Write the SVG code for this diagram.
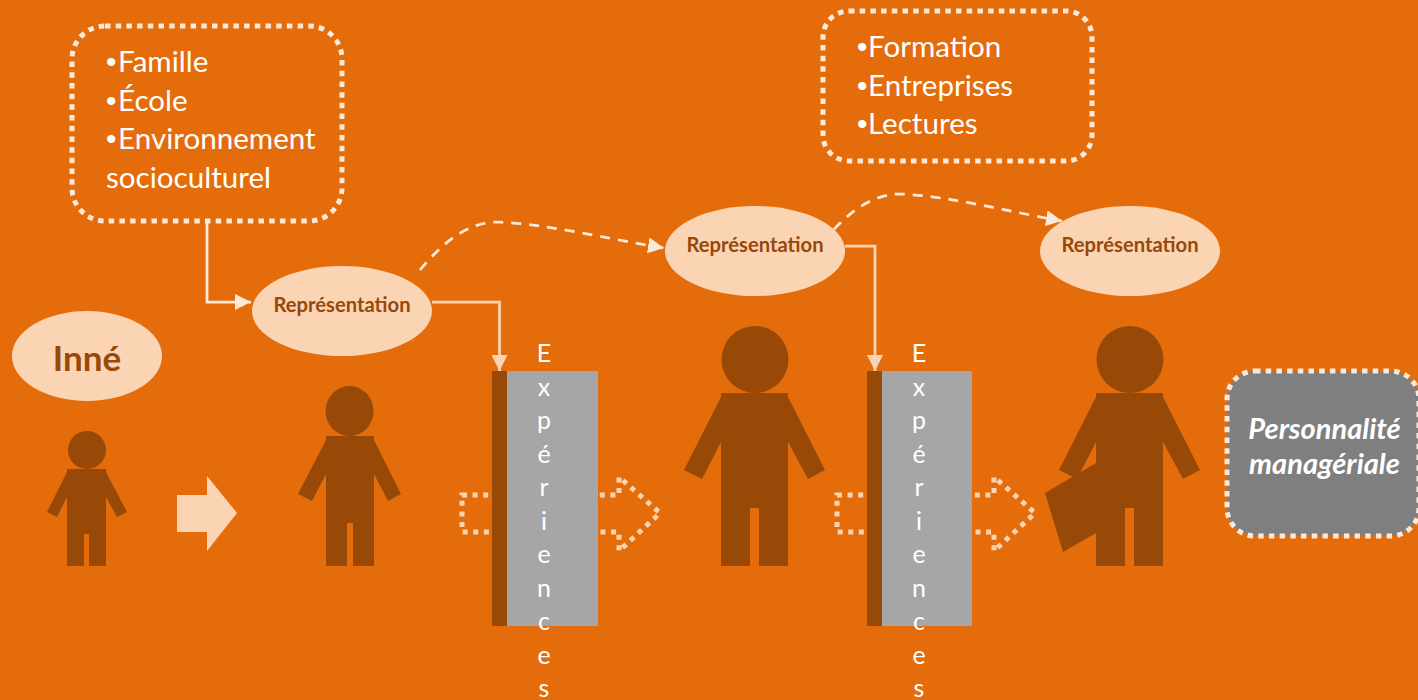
<svg xmlns="http://www.w3.org/2000/svg" width="1418" height="700" viewBox="0 0 1418 700">
<style>
.dk{fill:#984807}
.pe{fill:#FBD4B4}
.t{font-family:"Lato","Open Sans",sans-serif}
.list{font-size:29.6px;fill:#fff}
.bu{font-family:"Liberation Sans",sans-serif;font-size:30px}
.rep{font-size:20.2px;font-weight:700;fill:#984807;text-anchor:middle}
.ltr{font-size:25px;fill:#fff;text-anchor:middle}
.dot{fill:none;stroke:#FDE9D9;stroke-width:5;stroke-dasharray:5.500 5.200}
.blk{fill:none;stroke:#FBD4B4;stroke-width:5;stroke-dasharray:5 5.600}
.ln{fill:none;stroke:#FBD4B4;stroke-width:2.750}
.ln2{fill:none;stroke:#FDE9D9;stroke-width:2.750}
.ds{fill:none;stroke:#FDE9D9;stroke-width:2.750;stroke-dasharray:10 8}
</style>
<defs>
<marker id="a1" markerUnits="userSpaceOnUse" markerWidth="17" markerHeight="16" refX="16" refY="8" orient="auto"><path d="M0,0L16,8L0,16Z" fill="#FBD4B4"/></marker>
<marker id="a2" markerUnits="userSpaceOnUse" markerWidth="17" markerHeight="16" refX="16" refY="8" orient="auto"><path d="M0,0L16,8L0,16Z" fill="#FDE9D9"/></marker>
</defs>
<rect width="1418" height="700" fill="#E46C0A"/>

<g id="connectors">
<path class="ln2" d="M207,221V302H251" marker-end="url(#a2)"/>
<path class="ln" d="M432,302H499.500V371" marker-end="url(#a1)"/>
<path class="ln" d="M845,246H875V371" marker-end="url(#a1)"/>
<path class="ds" d="M420,270C443,242 468,222 498,222C548,224 608,239 664,248" marker-end="url(#a2)"/>
<path class="ds" d="M822,243C845,215 870,194 900,194C950,196 1010,212 1062,221" marker-end="url(#a2)"/>
</g>

<g id="box-famille">
<rect class="dot" x="72" y="26" width="270" height="195" rx="33"/>
<text class="t list" x="106" y="72"><tspan class="bu">•</tspan><tspan x="118">Famille</tspan></text>
<text class="t list" x="106" y="111"><tspan class="bu">•</tspan><tspan x="118">École</tspan></text>
<text class="t list" x="106" y="149"><tspan class="bu">•</tspan><tspan x="118">Environnement</tspan></text>
<text class="t list" x="106" y="188">socioculturel</text>
</g>
<g id="box-formation">
<rect class="dot" x="823" y="11" width="269" height="150" rx="26"/>
<text class="t list" x="857" y="57"><tspan class="bu">•</tspan><tspan x="868">Formation</tspan></text>
<text class="t list" x="857" y="96"><tspan class="bu">•</tspan><tspan x="868">Entreprises</tspan></text>
<text class="t list" x="857" y="134"><tspan class="bu">•</tspan><tspan x="868">Lectures</tspan></text>
</g>
<g id="box-personnalite">
<rect x="1227" y="371" width="192" height="165" rx="28" fill="#7F7F7F" stroke="#FDE9D9" stroke-width="5" stroke-dasharray="5.500 5.200"/>
<text class="t" x="1324.500" y="439" font-size="29" font-weight="700" font-style="italic" fill="#fff" text-anchor="middle">Personnalité</text>
<text class="t" x="1324.500" y="474" font-size="29" font-weight="700" font-style="italic" fill="#fff" text-anchor="middle">managériale</text>
</g>

<g id="inne">
<ellipse class="pe" cx="87" cy="356" rx="75" ry="45"/>
<text class="t" x="87" y="371" font-size="35" font-weight="700" fill="#984807" text-anchor="middle">Inné</text>
</g>
<g id="rep-1"><ellipse class="pe" cx="342" cy="311" rx="90" ry="45"/><text class="t rep" x="342" y="312">Représentation</text></g>
<g id="rep-2"><ellipse class="pe" cx="755" cy="251" rx="90" ry="45"/><text class="t rep" x="755" y="252">Représentation</text></g>
<g id="rep-3"><ellipse class="pe" cx="1130" cy="251" rx="90" ry="45"/><text class="t rep" x="1130" y="252">Représentation</text></g>

<g id="child" class="dk">
<circle cx="87" cy="450" r="19"/>
<path d="M67,469H106V472L127,512L117,517L106,497V566H89V534H84V566H67V497L57,517L47,512L67,472Z"/>
</g>
<path id="arrow" class="pe" d="M177,495H207V476L237,513L207,551V532H177Z"/>
<g id="teen" class="dk">
<ellipse cx="349.500" cy="411" rx="24" ry="25"/>
<path d="M326,436H374V440L401,494L388,501L374,474V566H353V523H347V566H326V474L312,501L298,494L326,440Z"/>
</g>
<g id="adult" class="dk">
<circle cx="755" cy="359.500" r="33.500"/>
<path d="M721,393H788V397L825,470L808,479L788,442V566H759V508H750V566H721V442L702,479L684,470L721,397Z"/>
</g>
<g id="manager" class="dk">
<circle cx="1130" cy="359.500" r="33.500"/>
<path d="M1096,393H1163V397L1200,470L1183,479L1163,442V566H1134V508H1125V566H1096V442L1077,479L1059,470L1096,397Z"/>
<path d="M1045,493L1096,463V533L1063,552Z"/>
</g>

<g id="exp-1">
<path class="blk" d="M462,495H619V477L660,513L619,551V532H462Z"/>
<rect class="dk" x="492" y="371" width="15" height="255"/>
<rect x="507" y="371" width="91" height="255" fill="#A6A6A6"/>
<g class="t ltr">
<text x="544" y="362">E</text><text x="544" y="395.500">x</text><text x="544" y="429">p</text><text x="544" y="462.500">é</text><text x="544" y="496">r</text><text x="544" y="529.500">i</text><text x="544" y="563">e</text><text x="544" y="596.500">n</text><text x="544" y="630">c</text><text x="544" y="663.500">e</text><text x="544" y="697">s</text>
</g>
</g>
<g id="exp-2">
<path class="blk" d="M837,495H994V477L1035,513L994,551V532H837Z"/>
<rect class="dk" x="867" y="371" width="15" height="255"/>
<rect x="882" y="371" width="90" height="255" fill="#A6A6A6"/>
<g class="t ltr">
<text x="919" y="362">E</text><text x="919" y="395.500">x</text><text x="919" y="429">p</text><text x="919" y="462.500">é</text><text x="919" y="496">r</text><text x="919" y="529.500">i</text><text x="919" y="563">e</text><text x="919" y="596.500">n</text><text x="919" y="630">c</text><text x="919" y="663.500">e</text><text x="919" y="697">s</text>
</g>
</g>
</svg>
